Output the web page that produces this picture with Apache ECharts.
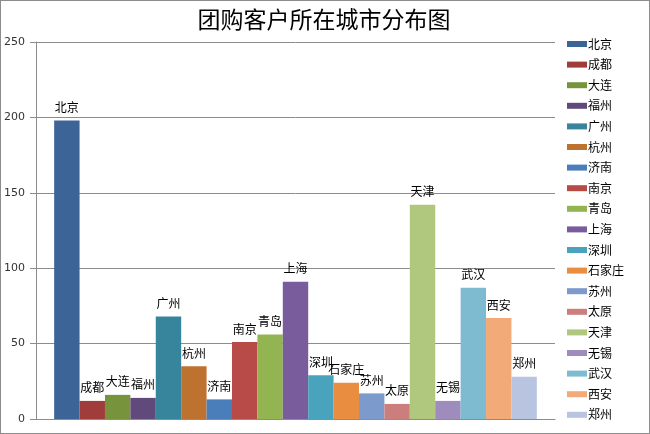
<!DOCTYPE html>
<html><head><meta charset="utf-8">
<script src="https://cdn.jsdelivr.net/npm/echarts@6/dist/echarts.min.js"></script>
<style>html,body{margin:0;padding:0;background:#fff}#c{width:648px;height:432px;border:1px solid #8c8c8c}</style>
</head><body><div id="c"></div>
<script>
var cities = ['北京','成都','大连','福州','广州','杭州','济南','南京','青岛','上海','深圳','石家庄','苏州','太原','天津','无锡','武汉','西安','郑州'];
var counts = [198,12,16,14,68,35,13,51,56,91,29,24,17,10,142,12,87,67,28];
var colors = ['#3C6497','#A03D3B','#77933C','#604A7B','#36859C','#BE722F','#4A7EBB','#B84A48','#93B551','#785C9C','#49A3BC','#E98E40','#7C9ACB','#CC7E7C','#AFC87E','#9D8CBC','#7EBBD1','#F3AA79','#B8C4E0'];
var yTicks = {min:0, max:250, interval:50};
var FONT = '"Noto Sans CJK SC","Noto Sans",sans-serif';
var chart = echarts.init(document.getElementById('c'));
var series = cities.map(function(c,i){
  return {name:c, type:'bar', data:[counts[i]], barGap:'0%', barCategoryGap:'7%',
    itemStyle:{color:colors[i]},
    label:{show:true, position:'top', distance:7, color:'#000', fontSize:12, fontFamily:FONT, formatter:function(p){return p.seriesName;}}};
});
chart.setOption({
  animation:false,
  title:{text:'团购客户所在城市分布图', left:318, top:2, textAlign:'center', textStyle:{fontSize:23, fontWeight:'normal', color:'#000', fontFamily:FONT}},
  grid:{left:35, right:94, top:41, bottom:14},
  xAxis:{type:'category', data:[''], axisTick:{show:false}, axisLabel:{show:false}, axisLine:{lineStyle:{color:'#8c8c8c'}}},
  yAxis:{type:'value', min:yTicks.min, max:yTicks.max, interval:yTicks.interval,
    axisLine:{show:true, lineStyle:{color:'#8c8c8c'}}, axisTick:{show:true, length:6, lineStyle:{color:'#8c8c8c'}},
    axisLabel:{color:'#333', fontSize:11, fontFamily:'"DejaVu Sans",sans-serif', margin:11},
    splitLine:{lineStyle:{color:'#8c8c8c'}}},
  legend:{orient:'vertical', left:561, top:32, itemWidth:20, itemHeight:6, itemGap:8.6, icon:'rect',
    textStyle:{fontSize:12, color:'#000', fontFamily:FONT, padding:[0,0,0,-4]}, data:cities},
  series:series
});
</script></body></html>
